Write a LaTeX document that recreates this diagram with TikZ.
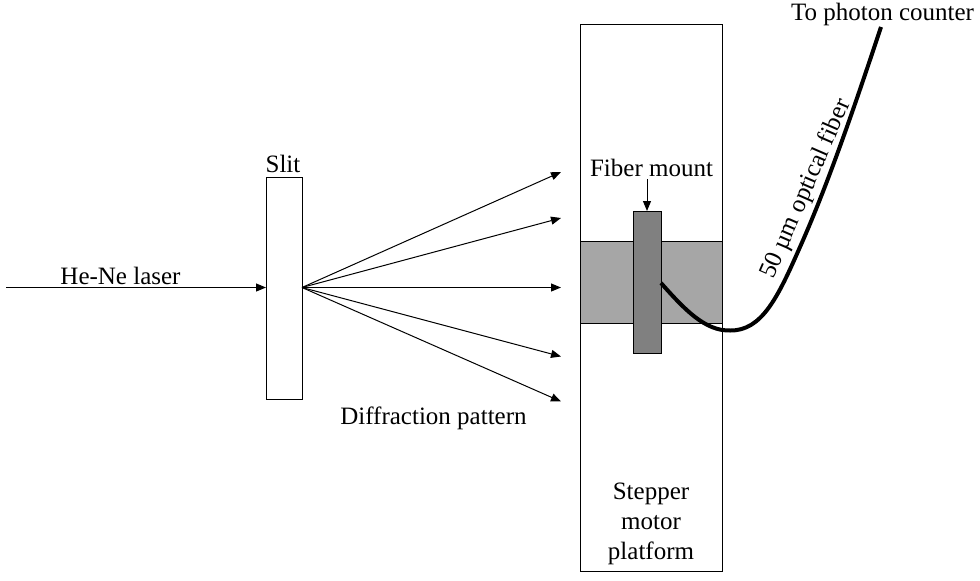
\documentclass[tikz,border=0pt]{standalone}
\usepackage{fontspec}
\setmainfont{Liberation Serif}
\usetikzlibrary{arrows.meta}
\tikzset{
  part/.style={draw=black,line width=1pt,inner sep=0pt,outer sep=0pt},
  lbl/.style={inner sep=0pt,font=\fontsize{25}{30}\selectfont},
  ray/.style={-{Triangle[length=10pt,width=8pt]},line width=1pt},
  fiber/.style={line width=4pt,black}
}
\begin{document}
\begin{tikzpicture}[x=1pt,y=-1pt]
\useasboundingbox (0,0) rectangle (980,581);

\node[part,fill=white,minimum width=142pt,minimum height=547pt] (platform) at (651.5,297.5) {};
\node[part,fill=black!35,minimum width=142pt,minimum height=82pt] (band) at (651.5,282) {};
\node[part,fill=white,minimum width=36pt,minimum height=222pt] (slit) at (284,288) {};

\coordinate (laser) at (6,287.5);
\coordinate (r1) at (561,172);
\coordinate (r2) at (561,218);
\coordinate (r3) at (561,287.5);
\coordinate (r4) at (561,356.5);
\coordinate (r5) at (561,401.5);
\coordinate (counter) at (881,27);
\coordinate (mounttop) at (647,179);

\draw[ray] (laser) -- (slit.west |- laser);
\draw[ray] (slit.east |- r3) -- (r1);
\draw[ray] (slit.east |- r3) -- (r2);
\draw[ray] (slit.east |- r3) -- (r3);
\draw[ray] (slit.east |- r3) -- (r4);
\draw[ray] (slit.east |- r3) -- (r5);

\node[part,fill=black!50,minimum width=28pt,minimum height=142pt] (mount) at (647,282) {};
\draw[fiber] (mount.east |- 0,283) .. controls (685,310) and (705,331) .. (730,330.5)
  .. controls (762,331) and (778,297) .. (800,247) .. controls (830,180) and (860,90) .. (counter);

\node[lbl] (laserlbl) at (120.5,275.5) {He-Ne laser};
\node[lbl] (slitlbl) at (283,163.5) {Slit};
\node[lbl] (pattern) at (433.5,418.5) {Diffraction pattern};
\node[lbl] (mountlbl) at (651.5,168) {Fiber mount};
\node[lbl,align=center] (platformlbl) at (651,523.5) {Stepper\\motor\\platform};
\node[lbl] (counterlbl) at (882.5,14) {To photon counter};
\node[lbl,rotate=66.5] (fiberlbl) at (806.5,189) {50 µm optical fiber};

\draw[ray] (mounttop) -- (mount.north);
\end{tikzpicture}
\end{document}
